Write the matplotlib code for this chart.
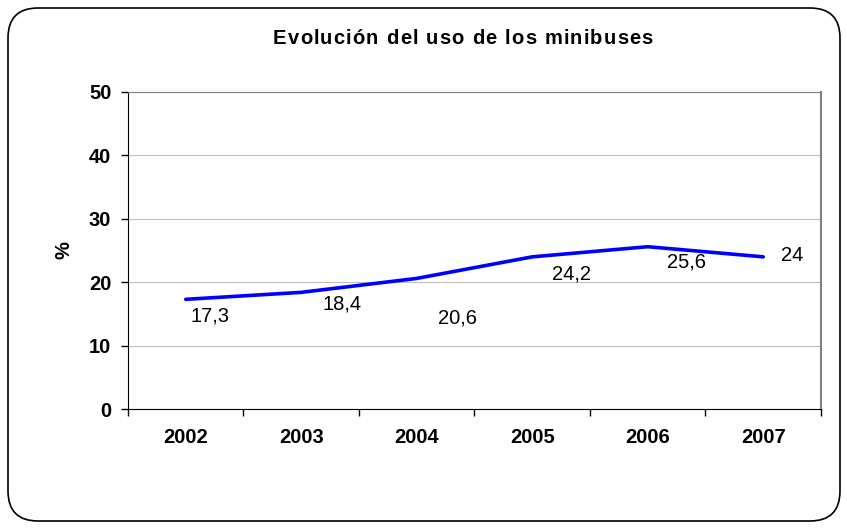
import matplotlib.pyplot as plt
from matplotlib.patches import FancyBboxPatch
from matplotlib.transforms import IdentityTransform
from matplotlib.font_manager import FontProperties
import numpy as np

plt.rcParams['font.family'] = ['Liberation Sans', 'DejaVu Sans']

years = ['2002', '2003', '2004', '2005', '2006', '2007']
uso = [17.3, 18.4, 20.6, 24.0, 25.6, 24.0]
etiquetas = ['17,3', '18,4', '20,6', '24,2', '25,6', '24']
titulo = 'Evolución del uso de los minibuses'
# label offsets in pixels (dx, dy)
offs = [(24, -17), (41, -12), (41, -40), (39, -17), (39, -15), (29, 1)]

fig = plt.figure(figsize=(8.47, 5.29), dpi=100)
ax = fig.add_axes([0.1511, 0.2268, 0.8182, 0.5993])

# rounded outer frame
frame = FancyBboxPatch((8, 8), 832, 513, boxstyle='round,pad=0,rounding_size=30',
                       transform=IdentityTransform(), fill=False, edgecolor='black', linewidth=1.2)
fig.patches.append(frame)

x = np.arange(len(years))
ax.plot(x, uso, color='#0000ff', linewidth=2.6, solid_capstyle='round')

for xi, yi, lab, (dx, dy) in zip(x, uso, etiquetas, offs):
    ax.annotate(lab, (xi, yi), xytext=(dx, dy), textcoords='offset pixels',
                ha='center', va='center', fontsize=14.5)

ax.set_xlim(-0.5, 5.5)
ax.set_ylim(0, 50)
ax.set_yticks(range(0, 51, 10))
ax.set_xticks(x)
ax.set_xticklabels(years)
ax.set_xticks(np.arange(-0.5, 6, 1), minor=True)
ax.tick_params(axis='x', which='major', length=0, pad=14)
ax.tick_params(axis='x', which='minor', length=5, direction='out', width=1)
ax.tick_params(axis='y', length=5, direction='out', width=1, pad=7)
for lab in ax.get_xticklabels() + ax.get_yticklabels():
    lab.set_fontweight('bold')
    lab.set_fontsize(14.5)

ax.yaxis.grid(True, color='#c0c0c0', linewidth=0.8)
ax.set_axisbelow(True)
ax.spines['top'].set_color('#808080')
ax.spines['right'].set_color('#808080')
ax.spines['right'].set_linewidth(1.5)
ax.spines['left'].set_color('black')
ax.spines['bottom'].set_color('black')

ax.set_ylabel('%', fontsize=14.5, fontweight='bold', labelpad=11)

# title with slightly wide letter spacing, like the original Excel chart
prop = FontProperties(family='Liberation Sans', weight='bold', size=14.5)
renderer = fig.canvas.get_renderer()
base = renderer.get_text_width_height_descent('xx', prop, ismath=False)[0]
widths = [renderer.get_text_width_height_descent('x' + ch + 'x', prop, ismath=False)[0] - base
          for ch in titulo]
extra = (380 - sum(widths)) / (len(titulo) - 1)
xpos = 273
for ch, w in zip(titulo, widths):
    fig.text(xpos / 847, 1 - 44 / 529, ch, fontproperties=prop, ha='left', va='baseline')
    xpos += w + extra

fig.savefig('out.png', dpi=100)
